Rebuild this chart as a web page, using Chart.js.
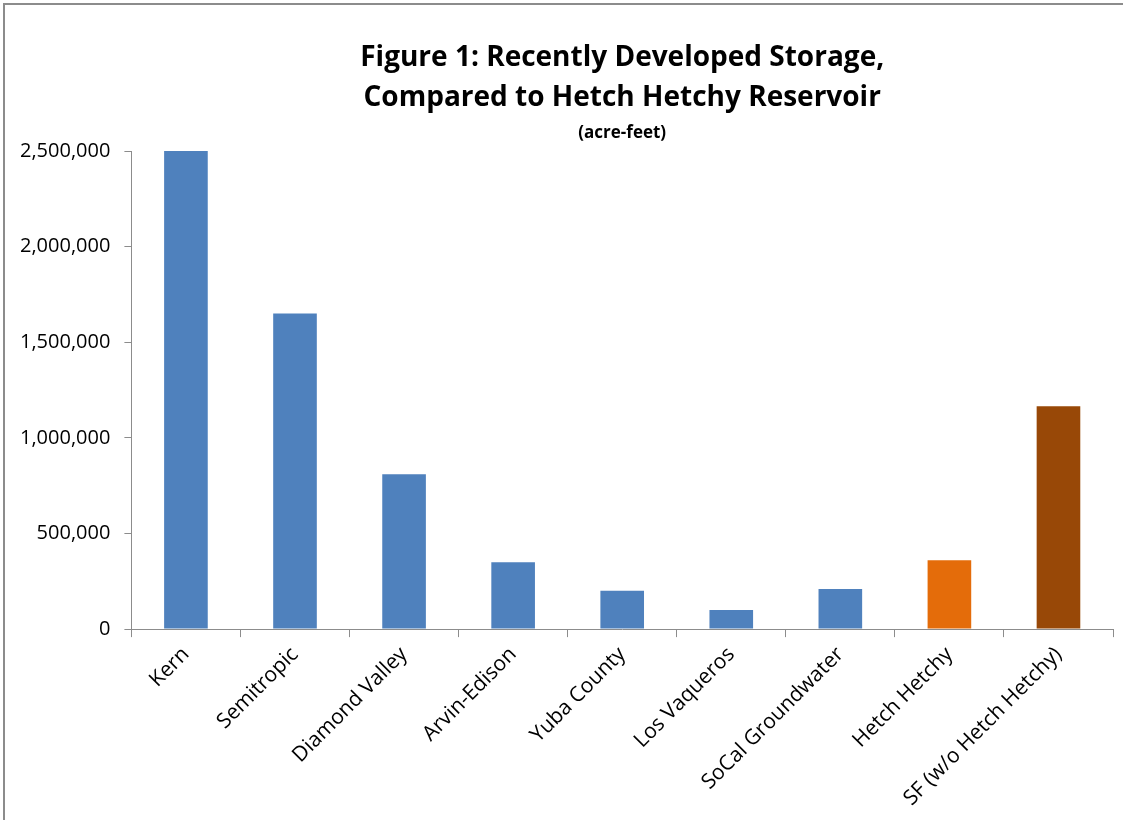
<!DOCTYPE html>
<html>
<head>
<meta charset="utf-8">
<script src="https://cdn.jsdelivr.net/npm/chart.js@4.4.0/dist/chart.umd.min.js"></script>
<style>
  body { margin: 0; background: #fff; }
  #wrap { position: relative; width: 1123px; height: 820px; }
  #wrap:before { content: ""; position: absolute; left: 3px; top: 3px; right: 0; bottom: 0;
    border-left: 2px solid #8c8c8c; border-top: 2px solid #8c8c8c; pointer-events: none; }
</style>
</head>
<body>
<div id="wrap"><canvas id="grafico" width="1123" height="820"></canvas></div>
<script>
// dados do grafico
var categorias = ['Kern', 'Semitropic', 'Diamond Valley', 'Arvin-Edison', 'Yuba County',
  'Los Vaqueros', 'SoCal Groundwater', 'Hetch Hetchy', 'SF (w/o Hetch Hetchy)'];
var armazenamento = [2500000, 1650000, 810000, 350000, 200000, 100000, 210000, 360000, 1165000];
var cores = ['#4F81BD', '#4F81BD', '#4F81BD', '#4F81BD', '#4F81BD', '#4F81BD', '#4F81BD', '#E46C0A', '#984807'];
var titulo = ['Figure 1: Recently Developed Storage,', 'Compared to Hetch Hetchy Reservoir'];
var subtitulo = '(acre-feet)';

var fonte = "'Open Sans', sans-serif";

// titulo centralizado sobre a area do grafico
var tituloPlugin = {
  id: 'tituloArea',
  afterDraw: function(chart) {
    var ctx = chart.ctx;
    var cx = (chart.chartArea.left + chart.chartArea.right) / 2;
    ctx.save();
    ctx.fillStyle = '#000';
    ctx.textAlign = 'center';
    ctx.textBaseline = 'middle';
    ctx.font = 'bold 28px ' + fonte;
    ctx.fillText(titulo[0], cx, 58);
    ctx.fillText(titulo[1], cx, 98);
    ctx.font = 'bold 17px ' + fonte;
    ctx.fillText(subtitulo, cx, 133);
    ctx.restore();
  }
};

var type = 'bar';

var data = {
  labels: categorias,
  datasets: [{
    data: armazenamento,
    backgroundColor: cores,
    barPercentage: 0.4,
    categoryPercentage: 1.0
  }]
};

var options = {
  responsive: false,
  animation: false,
  layout: { padding: { top: 151, right: 10, bottom: 4, left: 6 } },
  plugins: {
    legend: { display: false },
    title: { display: false },
    tooltip: { enabled: false }
  },
  scales: {
    x: {
      offset: true,
      grid: { offset: true, drawOnChartArea: false, color: '#8c8c8c', tickLength: 8 },
      border: { color: '#8c8c8c', width: 1 },
      ticks: { color: '#000', font: { family: fonte, size: 21 }, minRotation: 45, maxRotation: 45, padding: 5 }
    },
    y: {
      min: 0,
      max: 2500000,
      grid: { drawOnChartArea: false, color: '#8c8c8c', tickLength: 7 },
      border: { color: '#8c8c8c', width: 1 },
      ticks: {
        stepSize: 500000,
        color: '#000',
        font: { family: fonte, size: 20 },
        padding: 14,
        callback: function(v) { return v.toLocaleString('en-US'); }
      }
    }
  }
};

var ctx = document.getElementById('grafico').getContext('2d');
new Chart(ctx, { type: type, data: data, options: options, plugins: [tituloPlugin] });
</script>
</body>
</html>
